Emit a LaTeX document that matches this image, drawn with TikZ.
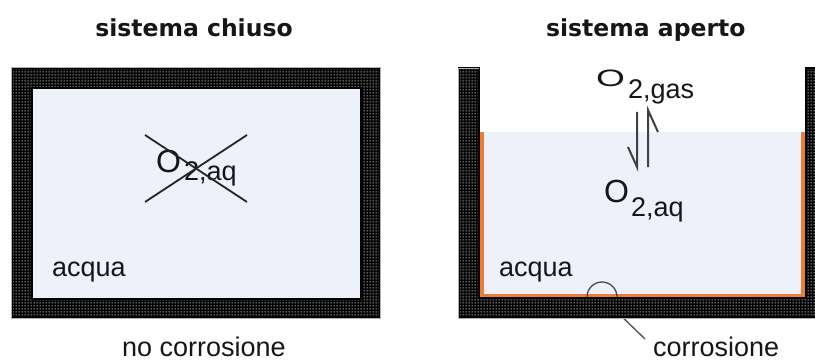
\documentclass[tikz,border=0pt]{standalone}
\usepackage{fontspec}
\usepackage{graphicx}
\setmainfont{Liberation Sans}
\newfontfamily\titlefont{DejaVu Sans}
\usetikzlibrary{patterns,calc}
\definecolor{water}{RGB}{238,240,250}
\definecolor{rust}{RGB}{237,125,49}
\definecolor{ink}{RGB}{22,22,26}
\newcommand{\subsz}{\fontsize{27}{28}\selectfont}
% square dot grid used for the masonry of the walls
\pgfdeclarepatternformonly{walldots}{\pgfqpoint{0pt}{0pt}}{\pgfqpoint{3pt}{3pt}}{\pgfqpoint{3pt}{3pt}}{%
  \pgfpathrectangle{\pgfqpoint{0.7pt}{0.7pt}}{\pgfqpoint{1.6pt}{1.6pt}}\pgfusepath{fill}}
\tikzset{
  wall/.style={preaction={fill=black, even odd rule}, pattern=walldots, pattern color=gray!30,
               draw=black, line width=2.5pt, line join=miter},
  wallrim/.style={draw=gray!60, line width=0.8pt},
  title/.style={font=\titlefont\bfseries\fontsize{23.5}{24}\selectfont, text=ink,
                inner sep=0pt, anchor=base},
  lbl/.style={font=\fontsize{27}{28}\selectfont, text=ink, inner sep=0pt},
  chem/.style={font=\fontsize{32}{33}\selectfont, text=ink, inner sep=0pt, anchor=base west},
  lining/.style={draw=rust, line width=4pt, line join=miter},
  eqline/.style={draw=black!75, line width=2pt, line join=miter},
  strike/.style={draw=black!85, line width=1.8pt},
  spotring/.style={circle, draw=black!70, line width=1.3pt, minimum size=30pt, inner sep=0pt},
  leader/.style={draw=black!70, line width=1.3pt}
}
\begin{document}
\begin{tikzpicture}[x=1pt,y=-1pt]
  \useasboundingbox (0,0) rectangle (815,361);
  \clip (0,0) rectangle (815,361);

  % titles
  \node[title] (tclosed) at (194,37) {sistema chiuso};
  \node[title, anchor=base west] (topen) at (546,37) {sistema aperto};

  % closed vessel: water filling the whole cavity
  \fill[water] (32,88) rectangle (361,299);
  \path[wall, even odd rule] (12,68) rectangle (380,318) (32,88) rectangle (361,299);
  \draw[wallrim] (11.5,67.5) rectangle (380.5,318.5);

  % open vessel: water up to the free surface
  \fill[water] (479,132) rectangle (806,298);
  \draw[lining] (482,132) -- (482,296) -- (803,296) -- (803,132);

  % corrosion spot on the bottom and its label
  \node[spotring] (spot) at (602,297) {};
  \node[lbl, anchor=base west] (corr) at (653,356) {corrosione};
  \coordinate (tail) at (645,339);
  \draw[leader] (spot.-45) -- (tail);

  \path[wall] (459,68) -- (479,68) -- (479,298) -- (806,298) -- (806,68)
              -- (820,68) -- (820,318) -- (459,318) -- cycle;
  \draw[wallrim] (478.5,68) -- (458.5,68) -- (458.5,318.5) -- (820,318.5);

  % labels inside the vessels
  \node[lbl, anchor=base west] (wl) at (52,276) {acqua};
  \node[lbl, anchor=base west] (wr) at (499,276) {acqua};
  \node[lbl, anchor=base] (nocorr) at (204,356) {no corrosione};

  % dissolved oxygen, struck out in the closed vessel
  \node[chem] (oxl) at (156,172) {O\hspace{3pt}\raisebox{-8pt}{\subsz 2,aq}};
  \draw[strike] (145,135) -- (247,202);
  \draw[strike] (145,202) -- (247,135);

  % gas / dissolved oxygen equilibrium
  \node[chem] (gas) at (596,87) {\scalebox{1.16}[0.74]{O}\hspace{3pt}\raisebox{-12pt}{\subsz 2,gas}};
  \node[chem] (aq) at (604,202) {O\hspace{2pt}\raisebox{-14pt}{\subsz 2,aq}};
  \coordinate (dnTop) at (637,112);
  \coordinate (dnEnd) at (637,167);
  \coordinate (dnBarb) at (628,147);
  \coordinate (upEnd) at (648,110);
  \coordinate (upFoot) at (648,167);
  \coordinate (upBarb) at (658,132);
  \draw[eqline] (dnTop) -- (dnEnd) -- (dnBarb);
  \draw[eqline] (upFoot) -- (upEnd) -- (upBarb);
\end{tikzpicture}
\end{document}
